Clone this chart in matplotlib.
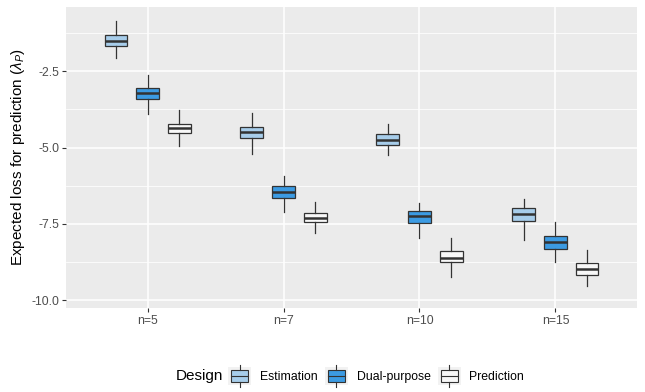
import matplotlib
matplotlib.use("Agg")
import matplotlib.pyplot as plt
from matplotlib.patches import Rectangle, Patch
from matplotlib.lines import Line2D
from matplotlib.legend_handler import HandlerBase

plt.rcParams['font.family'] = ['Liberation Sans', 'DejaVu Sans']
plt.rcParams['axes.unicode_minus'] = False
plt.rcParams['mathtext.fontset'] = 'custom'
plt.rcParams['mathtext.rm'] = 'Liberation Sans'
plt.rcParams['mathtext.it'] = 'Liberation Sans:italic'

categories = ["n=5", "n=7", "n=10", "n=15"]
designs = ["Estimation", "Dual-purpose", "Prediction"]
colors = {"Estimation": "#A7CDEA", "Dual-purpose": "#3C9BE3", "Prediction": "#F8F8F8"}

# five-number summaries per design, one value per category
est_whislo = [-2.06, -5.20, -5.23, -8.02]
est_q1     = [-1.68, -4.70, -4.91, -7.42]
est_med    = [-1.50, -4.48, -4.74, -7.17]
est_q3     = [-1.32, -4.31, -4.57, -6.99]
est_whishi = [-0.86, -3.85, -4.23, -6.70]

dual_whislo = [-3.89, -7.10, -7.95, -8.74]
dual_q1     = [-3.42, -6.66, -7.48, -8.31]
dual_med    = [-3.21, -6.45, -7.23, -8.08]
dual_q3     = [-3.06, -6.27, -7.09, -7.91]
dual_whishi = [-2.63, -5.93, -6.82, -7.44]

pred_whislo = [-4.94, -7.81, -9.23, -9.54]
pred_q1     = [-4.53, -7.45, -8.76, -9.17]
pred_med    = [-4.35, -7.30, -8.62, -8.97]
pred_q3     = [-4.23, -7.15, -8.39, -8.79]
pred_whishi = [-3.77, -6.79, -7.97, -8.37]

stats_by_design = {
    "Estimation": (est_whislo, est_q1, est_med, est_q3, est_whishi),
    "Dual-purpose": (dual_whislo, dual_q1, dual_med, dual_q3, dual_whishi),
    "Prediction": (pred_whislo, pred_q1, pred_med, pred_q3, pred_whishi),
}

W, H = 645, 392
fig = plt.figure(figsize=(W / 100, H / 100), dpi=100)
ax = fig.add_axes([66 / W, (H - 308) / H, 571 / W, 301 / H])
ax.set_facecolor("#EBEBEB")
for s in ax.spines.values():
    s.set_visible(False)

edge = "#333333"
dodge = 0.7 / 3
bw = 0.5 / 3
for k, d in enumerate(designs):
    wl, q1, md, q3, wh = stats_by_design[d]
    stats = []
    for i in range(len(categories)):
        stats.append(dict(whislo=wl[i], q1=q1[i], med=md[i], q3=q3[i], whishi=wh[i], fliers=[]))
    pos = [i + 1 + (k - 1) * dodge for i in range(len(categories))]
    ax.bxp(stats, positions=pos, widths=bw, patch_artist=True, showcaps=False,
           showfliers=False, manage_ticks=False,
           boxprops=dict(facecolor=colors[d], edgecolor=edge, linewidth=0.9),
           whiskerprops=dict(color=edge, linewidth=0.9),
           medianprops=dict(color=edge, linewidth=1.8, solid_capstyle='butt'))

ax.set_xlim(0.4, 4.6)
ax.set_ylim(-10.26, -0.39)
ax.set_xticks(range(1, len(categories) + 1))
ax.set_xticklabels(categories)
yt = [-2.5, -5.0, -7.5, -10.0]
ax.set_yticks(yt)
ax.set_yticklabels(["%.1f" % v for v in yt])
ax.set_yticks([-1.25, -3.75, -6.25, -8.75], minor=True)
ax.grid(True, which='major', color='white', linewidth=1.1)
ax.grid(True, which='minor', axis='y', color='white', linewidth=0.55)
ax.set_axisbelow(True)
ax.tick_params(which='major', length=3, width=0.8, color=edge, labelsize=8.8,
               labelcolor="#4D4D4D", pad=2)
ax.tick_params(which='minor', length=0)
ax.set_ylabel(r"Expected loss for prediction ($\lambda_P$)", fontsize=11, labelpad=3)


class BoxKeyHandler(HandlerBase):
    def create_artists(self, legend, orig_handle, xdescent, ydescent, width, height,
                       fontsize, trans):
        x0, y0 = -xdescent, -ydescent
        bg = Rectangle((x0, y0), width, height, facecolor="#F2F2F2", edgecolor='none',
                       transform=trans)
        bx = Rectangle((x0 + width * 0.12, y0 + height * 0.15), width * 0.76, height * 0.7,
                       facecolor=orig_handle.get_facecolor(), edgecolor=edge, linewidth=0.8,
                       transform=trans)
        med = Line2D([x0 + width * 0.12, x0 + width * 0.88], [y0 + height * 0.5] * 2,
                     color=edge, linewidth=0.8, transform=trans)
        w1 = Line2D([x0 + width / 2] * 2, [y0 + height * 0.85, y0 + height * 1.1],
                    color=edge, linewidth=0.8, transform=trans)
        w2 = Line2D([x0 + width / 2] * 2, [y0 - height * 0.1, y0 + height * 0.15],
                    color=edge, linewidth=0.8, transform=trans)
        return [bg, bx, med, w1, w2]


handles = [Patch(facecolor=colors[d], label=d) for d in designs]
leg = fig.legend(handles=handles, labels=designs, loc='center left',
                 bbox_to_anchor=(228 / W, 1 - 376 / H), ncol=3, frameon=False,
                 fontsize=8.8, handlelength=1.9, handleheight=1.9,
                 handletextpad=0.7, columnspacing=0.6, borderaxespad=0, borderpad=0,
                 handler_map={Patch: BoxKeyHandler()})
fig.text(176 / W, 1 - 376 / H, "Design", fontsize=11, va='center', ha='left')

fig.savefig("out.png", dpi=100)
